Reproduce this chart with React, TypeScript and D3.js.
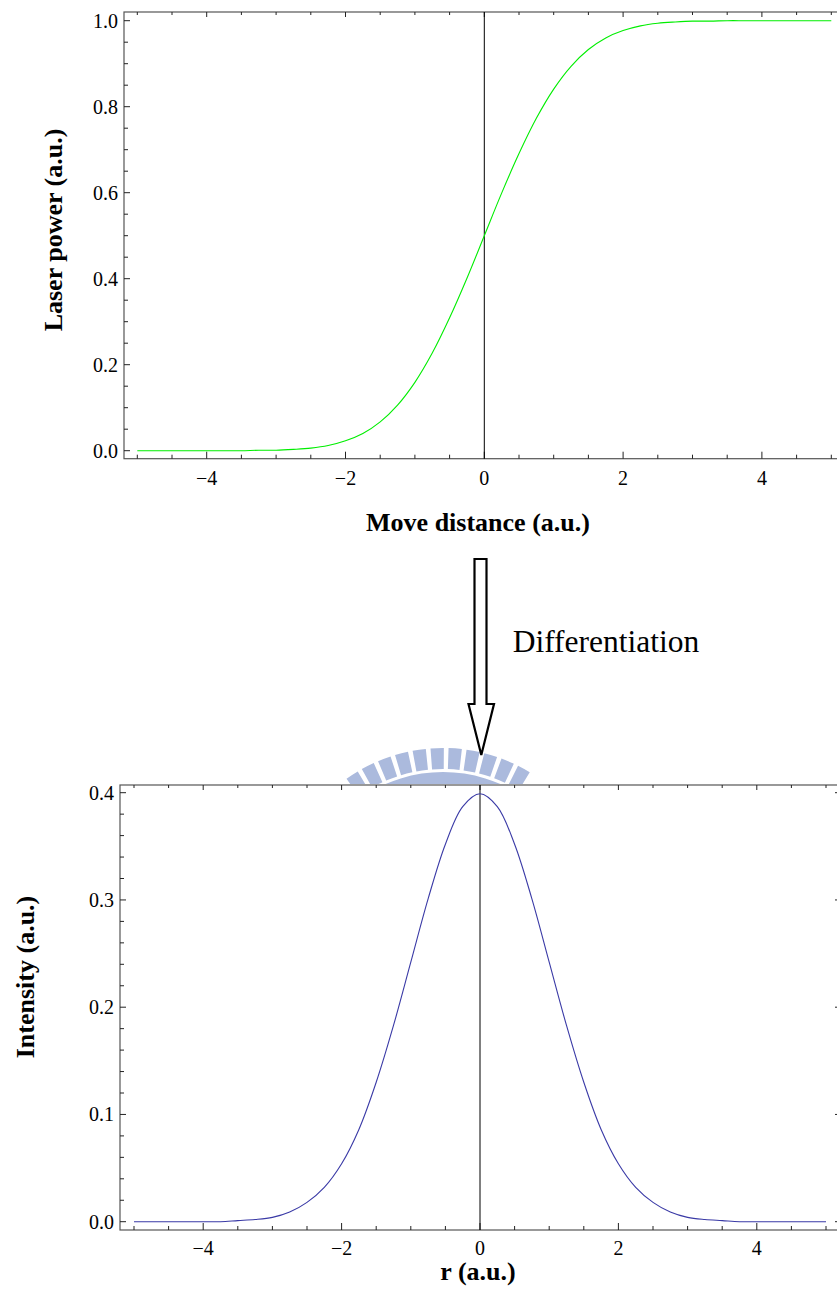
import React, { useEffect, useRef } from "react";
import * as d3 from "d3";

// sample positions (a.u.), read every 0.25 along the curves
const xs = [
  -5, -4.75, -4.5, -4.25, -4, -3.75, -3.5, -3.25, -3, -2.75, -2.5, -2.25, -2,
  -1.75, -1.5, -1.25, -1, -0.75, -0.5, -0.25, 0, 0.25, 0.5, 0.75, 1, 1.25, 1.5,
  1.75, 2, 2.25, 2.5, 2.75, 3, 3.25, 3.5, 3.75, 4, 4.25, 4.5, 4.75, 5,
];
// laser power vs move distance (green curve)
const laserPower = [
  0, 0, 0, 0, 0, 0, 0, 0.001, 0.001, 0.003, 0.006, 0.012, 0.023, 0.04, 0.067,
  0.106, 0.159, 0.227, 0.309, 0.401, 0.5, 0.599, 0.691, 0.773, 0.841, 0.894,
  0.933, 0.96, 0.977, 0.988, 0.994, 0.997, 0.999, 0.999, 1, 1, 1, 1, 1, 1, 1,
];
// intensity vs r (blue curve)
const intensity = [
  0, 0, 0, 0, 0, 0, 0.001, 0.002, 0.004, 0.009, 0.018, 0.032, 0.054, 0.086,
  0.13, 0.183, 0.242, 0.301, 0.352, 0.387, 0.399, 0.387, 0.352, 0.301, 0.242,
  0.183, 0.13, 0.086, 0.054, 0.032, 0.018, 0.009, 0.004, 0.002, 0.001, 0, 0, 0,
  0, 0, 0,
];

const xTicks = [-4, -2, 0, 2, 4];
const topYTicks = [0, 0.2, 0.4, 0.6, 0.8, 1.0];
const bottomYTicks = [0, 0.1, 0.2, 0.3, 0.4];

const W = 837;
const H = 1290;
const FONT = "'Liberation Serif', 'Times New Roman', serif";

export default function App() {
  const ref = useRef(null);

  useEffect(() => {
    const svg = d3.select(ref.current);
    svg.selectAll("*").remove();

    function panel(opts) {
      const { frame, xRange, yDomain, yRange, yTicks, yMinorStep, values, color, width, yFmt } = opts;
      const x = d3.scaleLinear().domain([-5, 5]).range(xRange);
      const y = d3.scaleLinear().domain(yDomain).range(yRange);
      const g = svg.append("g");

      // frame
      g.append("rect")
        .attr("x", frame.left)
        .attr("y", frame.top)
        .attr("width", frame.right - frame.left)
        .attr("height", frame.bottom - frame.top)
        .attr("fill", "white")
        .attr("stroke", "#555")
        .attr("stroke-width", 1.2);

      // x ticks (bottom + top frame)
      const xMinor = d3.range(-5, 5.001, 0.5);
      xMinor.forEach((v) => {
        const major = xTicks.includes(v);
        const len = major ? 7 : 4;
        g.append("line")
          .attr("x1", x(v)).attr("x2", x(v))
          .attr("y1", frame.bottom).attr("y2", frame.bottom - len)
          .attr("stroke", "#222").attr("stroke-width", 1);
        g.append("line")
          .attr("x1", x(v)).attr("x2", x(v))
          .attr("y1", frame.top).attr("y2", frame.top + (major ? 5 : 3))
          .attr("stroke", "#222").attr("stroke-width", 1);
      });
      const xfmt = d3.format("d");
      xTicks.forEach((v) => {
        g.append("text")
          .attr("x", x(v))
          .attr("y", opts.xLabelY)
          .attr("text-anchor", "middle")
          .style("font", `20px ${FONT}`)
          .text(xfmt(v));
      });

      // y ticks (left + right frame)
      const yMinor = d3.range(yDomain[0], yDomain[1] + 1e-6, yMinorStep);
      yMinor.forEach((v) => {
        const major = yTicks.some((t) => Math.abs(t - v) < 1e-6);
        g.append("line")
          .attr("x1", frame.left).attr("x2", frame.left + (major ? 6 : 4))
          .attr("y1", y(v)).attr("y2", y(v))
          .attr("stroke", "#222").attr("stroke-width", 1);
        g.append("line")
          .attr("x1", frame.right).attr("x2", frame.right - (major ? 5 : 3))
          .attr("y1", y(v)).attr("y2", y(v))
          .attr("stroke", "#222").attr("stroke-width", 1);
      });
      yTicks.forEach((v) => {
        g.append("text")
          .attr("x", frame.left - 6)
          .attr("y", y(v) + 7)
          .attr("text-anchor", "end")
          .style("font", `20px ${FONT}`)
          .text(d3.format(yFmt)(v));
      });

      // vertical axis at x = 0
      g.append("line")
        .attr("x1", x(0)).attr("x2", x(0))
        .attr("y1", frame.top).attr("y2", frame.bottom)
        .attr("stroke", "black").attr("stroke-width", 1);

      // curve
      const line = d3
        .line()
        .x((d, i) => x(xs[i]))
        .y((d) => y(d))
        .curve(d3.curveCatmullRom);
      g.append("path")
        .datum(values)
        .attr("d", line)
        .attr("fill", "none")
        .attr("stroke", color)
        .attr("stroke-width", width);

      // axis titles
      g.append("text")
        .attr("x", opts.xTitle[0])
        .attr("y", opts.xTitle[1])
        .attr("text-anchor", "middle")
        .style("font", `bold 26px ${FONT}`)
        .text(opts.xTitleText);
      g.append("text")
        .attr("transform", `translate(${opts.yTitle[0]},${opts.yTitle[1]}) rotate(-90)`)
        .attr("text-anchor", "middle")
        .style("font", `bold 26px ${FONT}`)
        .text(opts.yTitleText);
    }

    panel({
      frame: { left: 124, top: 12, bottom: 458.7, right: 846 },
      xRange: [137.3, 831.3],
      yDomain: [0, 1],
      yRange: [450.7, 20.7],
      yTicks: topYTicks,
      yMinorStep: 0.05,
      yFmt: ".1f",
      values: laserPower,
      color: "#00ee00",
      width: 1.1,
      xLabelY: 485,
      xTitle: [478, 531],
      xTitleText: "Move distance (a.u.)",
      yTitle: [62, 230],
      yTitleText: "Laser power (a.u.)",
    });

    // watermark (partial logo above the lower plot)
    const clip = svg.append("clipPath").attr("id", "wm");
    clip.append("rect").attr("x", 0).attr("y", 0).attr("width", W).attr("height", 784);
    const wm = svg.append("g").attr("clip-path", "url(#wm)").attr("fill", "#abbadd");
    const cx = 443, cy = 915;
    const bar = d3.arc().innerRadius(146).outerRadius(167);
    d3.range(-33, 33.1, 6.2).forEach((a) => {
      const r = (a * Math.PI) / 180;
      wm.append("path")
        .attr("transform", `translate(${cx},${cy})`)
        .attr("d", bar({ startAngle: r - 0.04, endAngle: r + 0.04 }));
    });
    wm.append("path")
      .attr("transform", `translate(${cx},${cy})`)
      .attr("d", d3.arc().innerRadius(131).outerRadius(143)({ startAngle: -0.6, endAngle: 0.6 }));

    panel({
      frame: { left: 120, top: 785, bottom: 1230, right: 840 },
      xRange: [134, 826],
      yDomain: [0, 0.4],
      yRange: [1221.7, 792.7],
      yTicks: bottomYTicks,
      yMinorStep: 0.02,
      yFmt: ".1f",
      values: intensity,
      color: "#3a3aa6",
      width: 1.1,
      xLabelY: 1255,
      xTitle: [478, 1280],
      xTitleText: "r (a.u.)",
      yTitle: [34, 977],
      yTitleText: "Intensity (a.u.)",
    });

    // hollow arrow + annotation
    const arrow = [
      [474.5, 559], [486.5, 559], [486.5, 704], [494, 704],
      [481.3, 755], [468.5, 704], [474.5, 704],
    ];
    svg.append("path")
      .attr("d", d3.line()(arrow) + "Z")
      .attr("fill", "white")
      .attr("stroke", "black")
      .attr("stroke-width", 2.2)
      .attr("stroke-linejoin", "miter");
    svg.append("text")
      .attr("x", 512.7)
      .attr("y", 652)
      .style("font", `31.5px ${FONT}`)
      .text("Differentiation");
  }, []);

  return (
    <svg
      ref={ref}
      width={W}
      height={H}
      style={{ position: "absolute", left: 0, top: 0, background: "white" }}
    />
  );
}
